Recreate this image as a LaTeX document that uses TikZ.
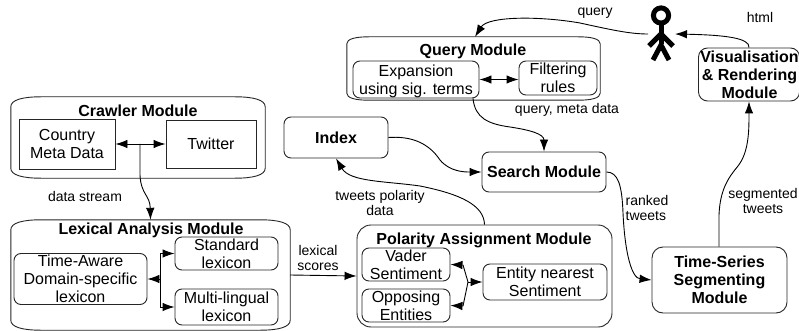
\documentclass[tikz,border=0pt]{standalone}
\usepackage{fontspec}
\setmainfont{Liberation Sans}
\usetikzlibrary{arrows.meta}
\newcommand{\ml}[1]{\smash{\raisebox{-6.5pt}{\begin{tabular}[c]{@{}c@{}}#1\end{tabular}}}}
\newcommand{\bowedoutline}[3]{%
  \draw[outline] ([yshift=-#3pt]#1.north west)
    .. controls ([yshift=-#3pt*0.3]#1.north west) and ([xshift=#2pt*0.4]#1.north west) .. ([xshift=#2pt]#1.north west)
    -- ([xshift=-#2pt]#1.north east)
    .. controls ([xshift=-#2pt*0.4]#1.north east) and ([yshift=-#3pt*0.3]#1.north east) .. ([yshift=-#3pt]#1.north east)
    -- ([yshift=#3pt]#1.south east)
    .. controls ([yshift=#3pt*0.3]#1.south east) and ([xshift=-#2pt*0.4]#1.south east) .. ([xshift=-#2pt]#1.south east)
    -- ([xshift=#2pt]#1.south west)
    .. controls ([xshift=#2pt*0.4]#1.south west) and ([yshift=#3pt*0.3]#1.south west) .. ([yshift=#3pt]#1.south west)
    -- cycle;}
\tikzset{
  x=1pt,y=-1pt,
  outline/.style={draw=black!85,line width=0.9pt},
  shell/.style={inner sep=0pt},
  plainbox/.style={outline,inner sep=0pt,font=\fontsize{16}{18}\selectfont},
  roundbox/.style={plainbox,rounded corners=7pt},
  modbox/.style={roundbox,font=\fontsize{16}{18}\selectfont\bfseries},
  title/.style={inner sep=0pt,font=\fontsize{16}{18}\selectfont\bfseries},
  lbl/.style={inner sep=0pt,font=\fontsize{14}{15.5}\selectfont},
  conn/.style={draw=black,line width=0.9pt},
  arr/.style={conn,-{Latex[length=12pt,width=8.5pt]}},
  dbl/.style={conn,{Latex[length=12pt,width=8.5pt]}-{Latex[length=12pt,width=8.5pt]}},
  figure/.style={draw=black,line width=5pt}
}
\begin{document}
\begin{tikzpicture}
\useasboundingbox (0,0) rectangle (799,331);
\fill[white] (0,0) rectangle (799,331);

% crawler
\node[shell,minimum width=254pt,minimum height=81pt] (crawler) at (138,137.5) {};
\bowedoutline{crawler}{30}{10}
\node[title] (crawlertitle) at (138,111) {Crawler Module};
\node[plainbox,minimum width=96pt,minimum height=50pt] (country) at (67,144) {\raisebox{1.5pt}{\ml{Country\\Meta Data}}};
\node[plainbox,minimum width=90pt,minimum height=48pt] (twitter) at (211,144) {Twitter};
\coordinate (crawlbus) at (140,144);

% lexical
\node[shell,minimum width=279pt,minimum height=110pt] (lexical) at (150.5,275) {};
\bowedoutline{lexical}{30}{10}
\node[title] (lexicaltitle) at (151,230) {Lexical Analysis Module};
\node[roundbox,minimum width=133pt,minimum height=51pt] (timeaware) at (80.5,279) {\ml{Time-Aware\\Domain-specific\\lexicon}};
\node[roundbox,minimum width=103pt,minimum height=33pt] (standard) at (226.5,253.5) {\ml{Standard\\lexicon}};
\node[roundbox,minimum width=103pt,minimum height=36pt] (multi) at (226.5,307) {\ml{Multi-lingual\\lexicon}};
\coordinate (lexbus) at (160,279);

% query
\node[shell,minimum width=253pt,minimum height=63pt] (query) at (473.5,68.5) {};
\bowedoutline{query}{22}{7}
\node[title] (querytitle) at (473,51) {Query Module};
\node[roundbox,minimum width=126pt,minimum height=37pt] (expansion) at (416,79.5) {\ml{Expansion\\using sig. terms}};
\node[roundbox,minimum width=78pt,minimum height=34pt] (filtering) at (558,78) {\ml{Filtering\\rules}};

% index, search
\node[modbox,minimum width=104pt,minimum height=41pt] (index) at (336,137.5) {Index};
\node[modbox,minimum width=124pt,minimum height=40pt] (search) at (544,172) {Search Module};

% polarity
\node[roundbox,rounded corners=14pt,minimum width=255pt,minimum height=102pt] (polarity) at (484.5,276) {};
\node[title] (polaritytitle) at (484,240) {Polarity Assignment Module};
\node[roundbox,minimum width=88pt,minimum height=33pt] (vader) at (406,264.5) {\ml{Vader\\Sentiment}};
\node[roundbox,minimum width=88pt,minimum height=33pt] (opposing) at (406,305.5) {\ml{Opposing\\Entities}};
\node[roundbox,minimum width=124pt,minimum height=36pt] (entity) at (545,282) {\ml{Entity nearest\\Sentiment}};
\coordinate (polhub) at (468,282);
\coordinate (polup) at (463,265);
\coordinate (poldown) at (463,306);

% time series, visualisation
\node[modbox,rounded corners=11pt,minimum width=135pt,minimum height=66pt] (timeseries) at (719.5,280) {\ml{Time-Series\\Segmenting\\Module}};
\node[modbox,rounded corners=9pt,minimum width=101pt,minimum height=53pt] (visual) at (749,74.5) {\hspace*{1pt}\ml{Visualisation\\\& Rendering\\Module}};

% stick figure
\coordinate (person) at (661,34);
\coordinate (personR) at (675,34);
\coordinate (personL) at (648,34);
\draw[figure] (661,15.5) circle (7.6);
\draw[figure] (661,23) -- (661,44);
\draw[figure] (649,46) -- (661,34) -- (673,46);
\draw[figure] (653,60) -- (661,45) -- (669,60);

% connectors
\draw[dbl] (country.east |- crawlbus) -- (twitter.west |- crawlbus);
\draw[arr] (crawlbus) -- (140,175) .. controls (141,195) and (150,195) .. (lexical.north);
\draw[conn] (lexbus |- standard.west) -- (lexbus |- multi.west);
\draw[arr] (lexbus) -- (timeaware.east);
\draw[arr] (lexbus |- standard.west) -- (standard.west);
\draw[arr] (lexbus |- multi.west) -- (multi.west);
\draw[dbl] (expansion.east) -- (expansion.east -| filtering.west);
\draw[arr] ([xshift=57pt]expansion.south) .. controls (475,118) and (488,124) .. (510,127) .. controls (530,130) and (544,134) .. (search.north);
\draw[arr] (index.east) .. controls (410,136) and (428,142) .. (440,160) .. controls (450,172) and (465,172) .. (search.west);
\draw[arr] (polarity.north) .. controls (484,205) and (460,194) .. (420,186) .. controls (385,181) and (350,182) .. (index.south);
\draw[arr] (lexical.east) -- (polarity.west);
\draw[arr] (polhub) -- (entity.west);
\draw[arr] (polhub) -- (polup) -- (vader.east);
\draw[arr] (polhub) -- (poldown) -- (opposing.east);
\draw[arr] (search.east) .. controls (618,172) and (622,185) .. (623,213) .. controls (625,255) and (632,278) .. (timeseries.west);
\draw[arr] ([xshift=-0.5pt]timeseries.north) -- (719,215) .. controls (720,190) and (728,178) .. (738,166) .. controls (749,152) and (749,130) .. (visual.south);
\draw[arr] (visual.north) .. controls (750,38) and (725,35) .. (personR);
\draw[arr] (personL) .. controls (630,34) and (612,30) .. (580,23) .. controls (540,16) and (488,16) .. ([xshift=1.5pt]query.north);

% labels
\node[lbl] (datastream) at (85,196) {data stream};
\node[lbl,align=center] (lexicalscores) at (318,258) {lexical\\scores};
\node[lbl,align=center] (tweetspol) at (380,203) {tweets polarity\\data};
\node[lbl] (querylabel) at (595,13) {query};
\node[lbl] (querymeta) at (567,110) {query, meta data};
\node[lbl] (html) at (760,17) {html};
\node[lbl,align=left] (ranked) at (647,208) {ranked\\tweets};
\node[lbl,align=center] (segmented) at (763,201) {segmented\\tweets};
\end{tikzpicture}
\end{document}
